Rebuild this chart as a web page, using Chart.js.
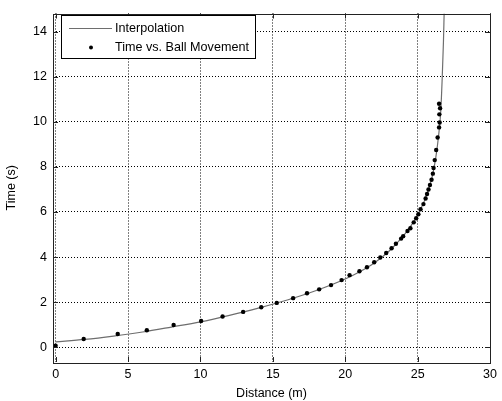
<!DOCTYPE html>
<html>
<head>
<meta charset="utf-8">
<script src="https://cdn.jsdelivr.net/npm/chart.js@4.4.1/dist/chart.umd.min.js"></script>
<style>
  html, body { margin: 0; padding: 0; background: #fff; }
  #wrap { width: 502px; height: 401px; }
</style>
</head>
<body>
<div id="wrap"><canvas id="c" width="502" height="401"></canvas></div>
<script>
// datos
const xTicks = [0, 5, 10, 15, 20, 25, 30];
const yTicks = [0, 2, 4, 6, 8, 10, 12, 14];

// curva de interpolación (lectura aproximada)
const curveX = [0, 2, 4, 6, 8, 10, 12, 14, 16, 18, 20, 21, 22, 23, 24, 24.5, 25, 25.5, 26, 26.25, 26.45, 26.6, 26.7, 26.78, 26.83];
const curveY = [0.24, 0.35, 0.5, 0.68, 0.9, 1.13, 1.42, 1.74, 2.1, 2.52, 3.03, 3.35, 3.74, 4.25, 4.93, 5.35, 5.87, 6.55, 7.55, 8.4, 9.4, 10.5, 12, 13.5, 14.8];

// mediciones
const distX = [0, 1.94, 4.29, 6.3, 8.15, 10.05, 11.53, 12.95, 14.2, 15.27, 16.4, 17.36, 18.2, 19.02, 19.75,
  20.3, 20.98, 21.5, 22.0, 22.42, 22.83, 23.2, 23.5, 23.86, 24.0, 24.3, 24.5, 24.73, 24.9, 25.05,
  25.2, 25.4, 25.55, 25.65, 25.75, 25.85, 25.96, 26.05, 26.1, 26.18, 26.28, 26.38, 26.48, 26.52, 26.5, 26.55, 26.48];
const timeY = [0.07, 0.37, 0.59, 0.76, 0.99, 1.17, 1.37, 1.57, 1.78, 1.97, 2.18, 2.4, 2.57, 2.76, 2.98,
  3.2, 3.37, 3.55, 3.77, 3.98, 4.18, 4.39, 4.59, 4.82, 4.93, 5.16, 5.28, 5.54, 5.72, 5.9,
  6.12, 6.35, 6.6, 6.8, 7.0, 7.2, 7.43, 7.7, 7.95, 8.3, 8.75, 9.3, 9.75, 9.97, 10.33, 10.6, 10.8];

const FONT = 'Liberation Sans, Arial, sans-serif';

// marco, ticks hacia dentro y leyenda
const matlabAxes = {
  id: 'matlabAxes',
  afterDraw(chart) {
    const ctx = chart.ctx;
    const a = chart.chartArea;
    const sx = chart.scales.x, sy = chart.scales.y;
    ctx.save();
    ctx.strokeStyle = '#222';
    ctx.lineWidth = 1;
    ctx.beginPath();
    xTicks.forEach(v => {
      const p = Math.round(sx.getPixelForValue(v)) + 0.5;
      ctx.moveTo(p, a.bottom); ctx.lineTo(p, a.bottom - 5);
      ctx.moveTo(p, a.top); ctx.lineTo(p, a.top + 5);
    });
    yTicks.forEach(v => {
      const p = Math.round(sy.getPixelForValue(v)) + 0.5;
      ctx.moveTo(a.left, p); ctx.lineTo(a.left + 5, p);
      ctx.moveTo(a.right, p); ctx.lineTo(a.right - 5, p);
    });
    ctx.stroke();
    ctx.strokeRect(Math.round(a.left) + 0.5, Math.round(a.top) + 0.5, Math.round(a.right - a.left), Math.round(a.bottom - a.top));

    // leyenda
    const lx = 61.5, ly = 15.5, lw = 194, lh = 43;
    ctx.fillStyle = '#fff';
    ctx.fillRect(lx, ly, lw, lh);
    ctx.strokeStyle = '#000';
    ctx.strokeRect(lx, ly, lw, lh);
    const ds = chart.data.datasets;
    ctx.strokeStyle = ds[0].borderColor;
    ctx.beginPath();
    ctx.moveTo(69, 28.5); ctx.lineTo(112, 28.5);
    ctx.stroke();
    ctx.fillStyle = '#000';
    ctx.beginPath();
    ctx.arc(91, 47.5, 2, 0, Math.PI * 2);
    ctx.fill();
    ctx.font = '12.6px ' + FONT;
    ctx.textBaseline = 'middle';
    ctx.fillText(ds[0].label, 115, 28.5);
    ctx.fillText(ds[1].label, 115, 47.5);
    ctx.restore();
  }
};

new Chart(document.getElementById('c'), {
  type: 'scatter',
  data: {
    datasets: [
      {
        label: 'Interpolation',
        type: 'line',
        data: curveX.map((x, i) => ({ x: x, y: curveY[i] })),
        borderColor: '#6e6e6e',
        borderWidth: 1.2,
        pointRadius: 0,
        cubicInterpolationMode: 'monotone',
        fill: false,
        order: 2
      },
      {
        label: 'Time vs. Ball Movement',
        data: distX.map((x, i) => ({ x: x, y: timeY[i] })),
        backgroundColor: '#000',
        borderColor: '#000',
        borderWidth: 0,
        pointRadius: 2.2,
        pointStyle: 'circle',
        order: 1
      }
    ]
  },
  plugins: [matlabAxes],
  options: {
    responsive: false,
    animation: false,
    layout: { padding: { top: 7, right: 9, left: 0, bottom: 0 } },
    plugins: { legend: { display: false }, tooltip: { enabled: false } },
    scales: {
      x: {
        type: 'linear',
        min: -0.18, max: 30,
        afterBuildTicks: s => { s.ticks = xTicks.map(v => ({ value: v })); },
        afterFit: s => { s.height = 39; },
        grid: { color: '#000', lineWidth: 1, drawTicks: false },
        border: { display: false, dash: [1, 2] },
        ticks: { color: '#000', font: { family: FONT, size: 12.5 }, padding: 5, maxRotation: 0 },
        title: { display: true, text: 'Distance (m)', color: '#000', font: { family: FONT, size: 12.5 }, padding: { top: 0, bottom: 0 } }
      },
      y: {
        type: 'linear',
        min: -0.65, max: 14.8,
        afterBuildTicks: s => { s.ticks = yTicks.map(v => ({ value: v })); },
        afterFit: s => { s.width = 53; },
        grid: { color: '#000', lineWidth: 1, drawTicks: false },
        border: { display: false, dash: [1, 2] },
        ticks: { color: '#000', font: { family: FONT, size: 12.5 }, padding: 6 },
        title: { display: true, text: 'Time (s)', color: '#000', font: { family: FONT, size: 12.5 }, padding: { top: 4, bottom: 0 } }
      }
    }
  }
});
</script>
</body>
</html>
